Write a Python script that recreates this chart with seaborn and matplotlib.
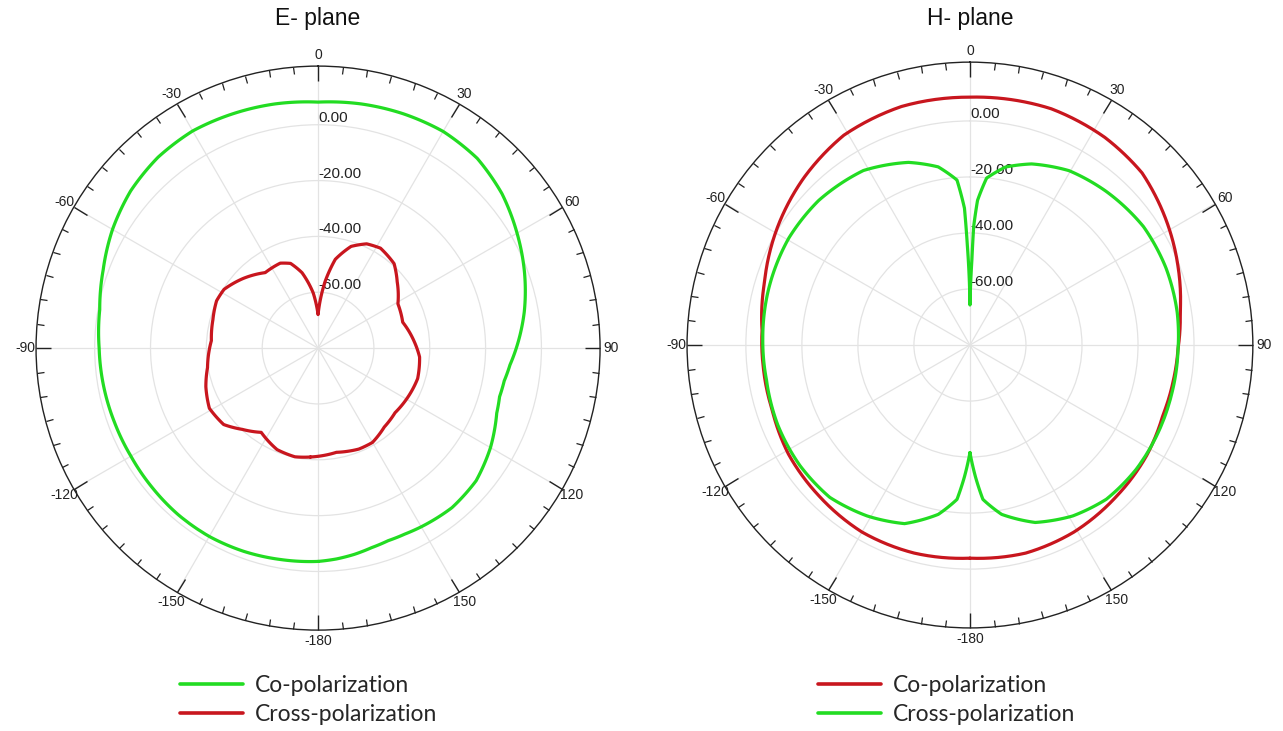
import numpy as np
import pandas as pd
import matplotlib
matplotlib.use("Agg")
import matplotlib.pyplot as plt
from matplotlib.lines import Line2D
import seaborn as sns

# ---------------- data (dB vs angle in degrees) ----------------
e_co_ang = [-180, -170, -160, -150, -140, -130, -120, -110, -100, -90, -80, -70, -60, -50, -40, -30,
            -20, -10, 0, 10, 20, 30, 40, 50, 60, 70, 80, 90, 95, 100, 105, 110, 115, 120, 130, 140,
            150, 155, 160, 165, 170, 175]
e_co_db = [-3.6, -3.1, -2.5, -2.1, -2.1, -2.4, -2.6, -2.4, -2.0, -1.6, -0.6, 1.9, 5.0, 7.6, 9.2, 9.8,
           9.3, 8.8, 8.1, 8.8, 9.3, 9.6, 8.7, 6.0, 2.3, -1.3, -5.0, -9.0, -11.0, -12.3, -12.7, -11.9,
           -10.3, -8.7, -6.1, -5.4, -6.1, -6.5, -6.6, -6.0, -5.0, -4.2]

e_x_ang = [-176, -168, -158, -146, -137, -129, -119, -109, -100, -86, -75, -65, -58, -47, -35, -24,
           -18, -12, -5, 0, 6, 11, 18, 25, 32, 42, 50, 61, 73, 86, 95, 107, 116, 130, 140, 150, 158, 170]
e_x_db = [-40.9, -40.2, -40.8, -43.6, -40.2, -36.5, -35.5, -37.5, -39.8, -41.7, -41.0, -39.9, -40.3,
          -43.4, -47.0, -46.7, -48.1, -52.4, -60.2, -68.0, -56.1, -47.6, -41.7, -38.8, -37.8, -39.3,
          -43.0, -47.3, -48.3, -45.5, -43.5, -42.7, -43.2, -44.0, -43.1, -41.0, -41.0, -42.1]

h_co_ang = [-180, -165, -150, -135, -121, -108, -96, -86, -73, -58, -45, -31, -16, 0, 19, 33, 45, 57,
            69, 81, 91, 100, 110, 122, 136, 151, 165]
h_co_db = [-3.9, -3.1, -2.9, -3.8, -4.4, -5.7, -5.8, -5.6, -3.3, 0.7, 4.1, 7.4, 8.6, 8.5, 9.2, 8.4,
           6.9, 3.2, -0.5, -4.0, -5.7, -6.3, -6.7, -5.6, -4.8, -3.6, -3.1]

h_x_ang = [-180, -177.6, -175.2, -169.4, -159.9, -149, -137.4, -125.4, -112.5, -99.7, -88.2, -74.8,
           -59.4, -46.3, -31.4, -18.6, -10.1, -4.5, -2.3, -1.5, -0.5, 0, 0.5, 1.3, 1.8, 3, 5.7, 11.3,
           18.8, 29.6, 41.5, 55.7, 68.5, 81.1, 91.3, 103.8, 114.8, 126.8, 138.5, 149, 159.8, 169.4,
           175.2, 177.6]
h_x_db = [-41.6, -32.9, -24.7, -18.5, -12.1, -8.8, -6.1, -5.6, -5.7, -6.3, -6.0, -5.4, -4.9, -5.3,
          -7.0, -11.2, -15.4, -20.9, -31.1, -44.4, -57.7, -65.7, -60.0, -49.7, -37.7, -28.3, -20.1,
          -15.2, -11.7, -8.4, -6.7, -5.0, -4.8, -5.1, -5.7, -5.9, -5.9, -5.9, -6.5, -8.8, -12.5,
          -18.5, -24.7, -32.9]

theta_ticks = [0, 30, 60, 90, 120, 150, 180, 210, 240, 270, 300, 330]
theta_labels = ["0", "30", "60", "90", "120", "150", "-180", "-150", "-120", "-90", "-60", "-30"]
r_ticks = [-60, -40, -20, 0]
r_labels = ["-60.00", "-40.00", "-20.00", "0.00"]
titles = ["E- plane", "H- plane"]
legend_labels = ["Co-polarization", "Cross-polarization"]

GREEN = "#22dc22"
RED = "#c8161e"
R_MIN, R_MAX = -80, 21

sns.set_theme(style="white")
plt.rcParams["font.family"] = ["Liberation Sans", "DejaVu Sans"]


def closed(ang, db):
    a = np.deg2rad(np.asarray(ang, float))
    a = np.append(a, a[0] + 2 * np.pi)
    d = np.append(np.asarray(db, float), db[0])
    return pd.DataFrame({"theta": a, "r": d})


def style_polar(ax):
    ax.set_theta_zero_location("N")
    ax.set_theta_direction(-1)
    ax.set_ylim(R_MIN, R_MAX)
    ax.set_xticks(np.deg2rad(theta_ticks))
    ax.set_xticklabels(theta_labels, fontsize=10, color="#222222")
    ax.set_xticks(np.deg2rad(np.arange(0, 360, 5)), minor=True)
    ax.tick_params(axis="x", which="both", bottom=False, top=True,
                   labelbottom=True, labeltop=False)
    ax.tick_params(axis="x", which="major", direction="in", length=11, width=1.0,
                   color="#222222", pad=1.0)
    ax.tick_params(axis="x", which="minor", direction="in", length=5, width=0.9,
                   color="#222222")
    ax.set_yticks(r_ticks)
    ax.set_yticklabels([])
    ax.grid(True, color="#e3e3e3", linewidth=0.9)
    ax.spines["polar"].set_color("#222222")
    ax.spines["polar"].set_linewidth(1.0)
    ax.set_xlabel("")
    ax.set_ylabel("")
    for v, lab in zip(r_ticks, r_labels):
        ax.text(0, v, lab, ha="left", va="bottom", fontsize=11, color="#222222", zorder=1)


fig = plt.figure(figsize=(12.83, 7.31), dpi=100)
axL = fig.add_axes([0.0281, 0.138, 0.4396, 0.7716], projection="polar")
axR = fig.add_axes([0.5355, 0.141, 0.441, 0.774], projection="polar")

sets = [
    (axL, [(e_co_ang, e_co_db, GREEN), (e_x_ang, e_x_db, RED)]),
    (axR, [(h_co_ang, h_co_db, RED), (h_x_ang, h_x_db, GREEN)]),
]
for ax, series in sets:
    for ang, db, col in series:
        df = closed(ang, db)
        n_before = len(ax.lines)
        sns.lineplot(data=df, x="theta", y="r", ax=ax, sort=False, estimator=None,
                     color=col, linewidth=2.3, zorder=3)
        for ln in ax.lines[n_before:]:
            # draw each segment following the polar geometry (rendering only)
            ln.get_path()._interpolation_steps = 24
            ln.set_solid_joinstyle("round")
            ln.set_solid_capstyle("round")
    style_polar(ax)

fig.text(318 / 1283, 1 - 18 / 731, titles[0], ha="center", va="center", fontsize=16.5, color="#111111")
fig.text(970 / 1283, 1 - 18 / 731, titles[1], ha="center", va="center", fontsize=16.5, color="#111111")

leg_font = {"family": ["Lato", "DejaVu Sans"], "size": 16.5}
for x0, cols in [(180 / 1283, [GREEN, RED]), (818 / 1283, [RED, GREEN])]:
    handles = [Line2D([], [], color=c, linewidth=2.6) for c in cols]
    fig.legend(handles, legend_labels, loc="upper left", bbox_to_anchor=(x0, 1 - 675 / 731),
               frameon=False, prop=leg_font, handlelength=2.75, handletextpad=0.5,
               labelspacing=0.37, borderpad=0, borderaxespad=0)

fig.savefig("out.png", dpi=100)
